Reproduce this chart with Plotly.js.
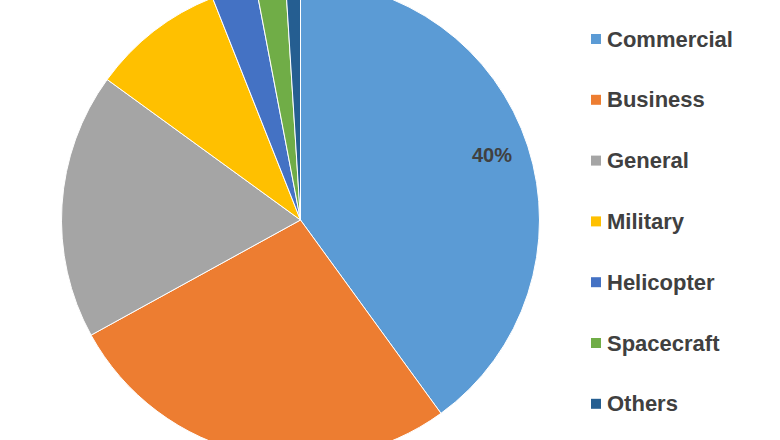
<!DOCTYPE html>
<html>
<head>
<meta charset="utf-8">
<script src="https://cdn.plot.ly/plotly-3.0.1.min.js"></script>
<style>
  html, body { margin: 0; padding: 0; width: 780px; height: 440px; overflow: hidden; background: #ffffff; }
  #chart { position: absolute; left: 0; top: -19px; width: 780px; height: 478px; }
</style>
</head>
<body>
<div id="chart"></div>
<script>
// ---- data ----
const categories = ['Commercial', 'Business', 'General', 'Military', 'Helicopter', 'Spacecraft', 'Others'];
const shares = [40, 27, 18, 9, 3, 2, 1];
const sliceColors = ['#5B9BD5', '#ED7D31', '#A5A5A5', '#FFC000', '#4472C4', '#70AD47', '#255E91'];
const labelledCategories = ['Commercial'];

// ---- layout constants (pixels in the plot canvas) ----
const W = 780, H = 478, OFFSET = 19;      // canvas is shifted up by OFFSET so the pie gets cropped like the reference
const CX = 300.5, R = 239;                // pie centre x and radius
const CY = H / 2;                         // pie centre y (domain y = [0,1])
const TEXT_COLOR = '#404040';
const FONT = 'Liberation Sans, Arial, sans-serif';

const px = x => x / W;
const py = y => 1 - (y + OFFSET) / H;     // y given in window pixels

const trace = {
  type: 'pie',
  labels: categories,
  values: shares,
  sort: false,
  direction: 'clockwise',
  rotation: 0,
  textinfo: 'none',
  hoverinfo: 'skip',
  marker: { colors: sliceColors, line: { color: '#ffffff', width: 1 } },
  domain: { x: [(CX - R) / W, (CX + R) / W], y: [0, 1] },
  showlegend: false
};

// legend built from the category list
const annotations = [];
const shapes = [];
const LEG_Y0 = 39, LEG_STEP = 60.8, SQ_X = 591, SQ = 10, TXT_X = 605;
categories.forEach((name, i) => {
  const yc = LEG_Y0 + i * LEG_STEP;
  shapes.push({
    type: 'rect', xref: 'paper', yref: 'paper',
    x0: px(SQ_X), x1: px(SQ_X + SQ), y0: py(yc + SQ / 2), y1: py(yc - SQ / 2),
    fillcolor: sliceColors[i], line: { width: 0 }
  });
  annotations.push({
    xref: 'paper', yref: 'paper', x: px(TXT_X), y: py(yc),
    xanchor: 'left', yanchor: 'middle', showarrow: false,
    text: '<b>' + name + '</b>',
    font: { family: FONT, size: 22, color: TEXT_COLOR }
  });
});

// percentage label(s) placed along the slice bisector
const total = shares.reduce((a, b) => a + b, 0);
let cum = 0;
shares.forEach((v, i) => {
  const start = cum / total, end = (cum + v) / total;
  cum += v;
  if (labelledCategories.indexOf(categories[i]) === -1) return;
  const ang = (start + end) / 2 * 2 * Math.PI;
  const rr = 0.85 * R;
  const x = CX + rr * Math.sin(ang) - 2;
  const y = CY - rr * Math.cos(ang) - 2;
  annotations.push({
    xref: 'paper', yref: 'paper', x: x / W, y: 1 - y / H,
    xanchor: 'center', yanchor: 'middle', showarrow: false,
    text: '<b>' + Math.round(v / total * 100) + '%</b>',
    font: { family: FONT, size: 20, color: TEXT_COLOR }
  });
});

const layout = {
  width: W, height: H,
  margin: { l: 0, r: 0, t: 0, b: 0 },
  paper_bgcolor: '#ffffff',
  plot_bgcolor: '#ffffff',
  showlegend: false,
  annotations: annotations,
  shapes: shapes
};

Plotly.newPlot('chart', [trace], layout, { displayModeBar: false, staticPlot: true });
</script>
</body>
</html>
